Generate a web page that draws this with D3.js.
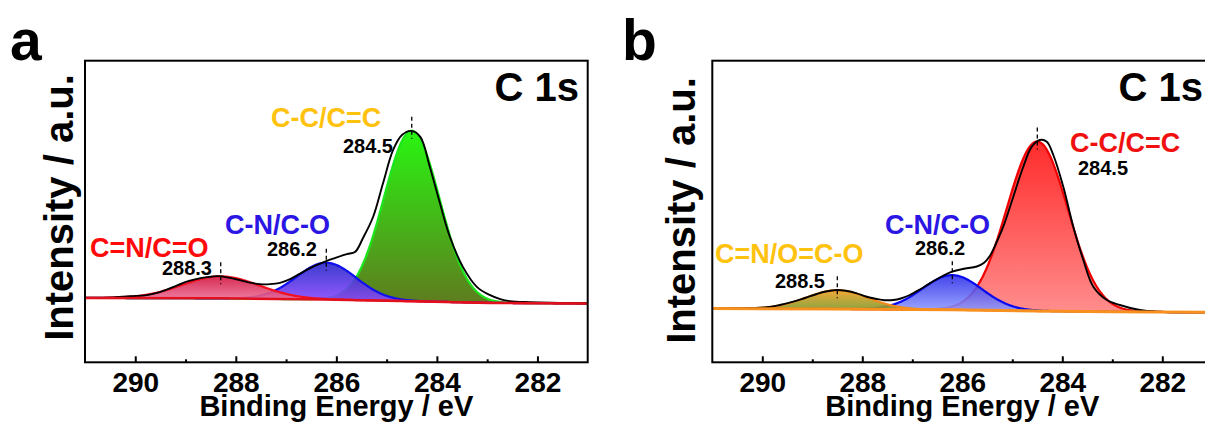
<!DOCTYPE html>
<html>
<head>
<meta charset="utf-8">
<script src="https://cdn.jsdelivr.net/npm/d3@7"></script>
<style>
  html, body { margin: 0; padding: 0; background: #fff; }
  svg { display: block; font-family: "Liberation Sans", Arial, Helvetica, sans-serif; font-weight: bold; }
</style>
</head>
<body>
<svg id="fig" width="1205" height="422"></svg>
<script>
// ---- Sample a: C 1s spectrum (binding energy in eV, intensity in a.u.) ----
const energyA = [291.00, 290.50, 290.10, 289.77, 289.51, 289.25, 289.01, 288.79, 288.57, 288.35,
  288.14, 287.92, 287.72, 287.52, 287.32, 287.12, 286.92, 286.72, 286.48, 286.25,
  286.03, 285.79, 285.63, 285.47, 285.27, 285.07, 284.87, 284.69, 284.51, 284.33,
  284.14, 283.94, 283.74, 283.48, 283.20, 282.94, 282.74, 282.55, 282.15, 281.55, 281.00];
const intensityA = [21.36, 21.43, 21.93, 22.26, 23.26, 24.92, 26.58, 27.57, 28.24, 28.57,
  28.07, 27.24, 26.41, 25.91, 25.91, 26.35, 27.57, 29.40, 31.56, 33.22,
  34.55, 35.88, 36.54, 41.20, 48.17, 59.47, 70.43, 75.42, 76.74, 74.75,
  64.78, 52.82, 41.53, 31.56, 24.92, 22.26, 20.93, 20.27, 19.93, 19.70, 19.50];
// Background under the fitted components
const bgEnergyA = [291.0, 288.35, 286.25, 284.5, 282.95, 281.0];
const bgA = [21.36, 21.2, 20.83, 20.27, 19.7, 19.5];
// Fitted components
const peakNamesA = ["C-C/C=C", "C-N/C-O", "C=N/C=O"];
const peakCentersA = [284.5, 286.2, 288.3];
const peakHeightsA = [56.5, 12.2, 7.3];
const peakFwhmA = [1.30, 1.40, 1.80];

// ---- Sample b: C 1s spectrum ----
const energyB = [291.00, 290.45, 289.91, 289.65, 289.38, 289.15, 288.91, 288.73, 288.51, 288.33,
  288.11, 287.93, 287.71, 287.55, 287.38, 287.23, 287.05, 286.85, 286.65, 286.43,
  286.20, 285.99, 285.71, 285.57, 285.45, 285.33, 285.18, 284.98, 284.78, 284.61,
  284.45, 284.31, 284.18, 283.98, 283.78, 283.58, 283.38, 283.11, 282.85, 282.45,
  282.05, 281.15, 281.00];
const intensityB = [17.90, 17.90, 18.24, 19.00, 20.09, 21.32, 22.65, 23.47, 23.97, 23.71,
  22.88, 21.82, 20.99, 20.59, 20.66, 21.15, 22.31, 24.14, 26.19, 28.28,
  30.04, 30.94, 31.76, 32.92, 35.25, 39.22, 44.96, 54.91, 64.85, 71.49,
  73.71, 73.14, 68.73, 58.22, 44.96, 33.92, 25.07, 20.66, 19.00, 17.34,
  16.78, 16.58, 16.55];
const bgEnergyB = [291.0, 288.5, 286.2, 284.5, 283.0, 281.0];
const bgB = [17.85, 17.7, 17.4, 17.0, 16.75, 16.6];
const peakNamesB = ["C-C/C=C", "C-N/C-O", "C=N/O=C-O"];
const peakCentersB = [284.5, 286.2, 288.5];
const peakHeightsB = [56.2, 11.5, 6.2];
const peakFwhmB = [1.43, 1.40, 1.45];

// ---- Axis ----
const energyDomain = [291, 281];
const majorTicks = [290, 288, 286, 284, 282];
const minorTicks = [289, 287, 285, 283];
const xTitle = "Binding Energy / eV";
const yTitle = "Intensity / a.u.";
const coreLevel = "C 1s";

// ---------------------------------------------------------------
const svg = d3.select("#fig");
const defs = svg.append("defs");
const FONT = '"Liberation Sans", Arial, Helvetica, sans-serif';

function drawPanel(p) {
  const x = d3.scaleLinear().domain(energyDomain).range([p.left, p.right]);
  const y = d3.scaleLinear().domain([0, 100]).range([p.bottom, p.top]);
  const bgAt = d3.scaleLinear().domain(p.bgEnergy).range(p.bg);
  const g = svg.append("g");

  const clipId = "clip-" + p.letter;
  defs.append("clipPath").attr("id", clipId)
    .append("rect")
    .attr("x", p.left).attr("y", p.top)
    .attr("width", p.right - p.left).attr("height", p.bottom - p.top);

  const plot = g.append("g").attr("clip-path", `url(#${clipId})`);

  // drawing grid for the fitted component profiles
  const grid = d3.range(energyDomain[1], energyDomain[0] + 1e-6, 0.02);
  const gauss = (e, c, h, w) => h * Math.exp(-4 * Math.LN2 * ((e - c) / w) ** 2);

  p.order.forEach(i => {
    const st = p.styles[i];
    const gid = `grad-${p.letter}-${i}`;
    const lg = defs.append("linearGradient").attr("id", gid)
      .attr("x1", 0).attr("y1", 0).attr("x2", 0).attr("y2", 1);
    lg.append("stop").attr("offset", "0%").attr("stop-color", st.top).attr("stop-opacity", st.opacity);
    lg.append("stop").attr("offset", "100%").attr("stop-color", st.bottom).attr("stop-opacity", st.opacity);

    const pts = grid.map(e => {
      const b = bgAt(e);
      return { e, b, v: b + gauss(e, p.centers[i], p.heights[i], p.fwhm[i]) };
    });
    const shown = pts.filter(d => d.v - d.b > 0.05);
    plot.append("path")
      .datum(shown)
      .attr("fill", `url(#${gid})`)
      .attr("d", d3.area().x(d => x(d.e)).y0(d => y(d.b)).y1(d => y(d.v)));
    plot.append("path")
      .datum(pts)
      .attr("fill", "none")
      .attr("stroke", st.stroke)
      .attr("stroke-width", 2.2)
      .attr("d", d3.line().x(d => x(d.e)).y(d => y(d.v)));
  });

  // measured envelope
  const env = p.energy.map((e, k) => [e, p.intensity[k]]);
  plot.append("path")
    .datum(env)
    .attr("fill", "none")
    .attr("stroke", "#000")
    .attr("stroke-width", 1.9)
    .attr("stroke-linejoin", "round")
    .attr("d", d3.line().x(d => x(d[0])).y(d => y(d[1])).curve(d3.curveCatmullRom.alpha(0.5)));

  // background line
  const bgPts = p.bgEnergy.map((e, k) => [e, p.bg[k]]);
  plot.append("path")
    .datum(bgPts)
    .attr("fill", "none")
    .attr("stroke", p.bgColor)
    .attr("stroke-width", p.bgWidth)
    .attr("d", d3.line().x(d => x(d[0])).y(d => y(d[1])));

  // peak position markers
  p.centers.forEach((c, i) => {
    const top = y(bgAt(c) + p.heights[i]);
    g.append("line")
      .attr("x1", x(c)).attr("x2", x(c))
      .attr("y1", top - 14).attr("y2", top + 8)
      .attr("stroke", "#000").attr("stroke-width", 1.3)
      .attr("stroke-dasharray", "4,3");
  });

  // frame
  g.append("rect")
    .attr("x", p.left).attr("y", p.top)
    .attr("width", p.right - p.left).attr("height", p.bottom - p.top)
    .attr("fill", "none").attr("stroke", "#000").attr("stroke-width", 2);

  // bottom axis, ticks pointing inward
  const ax = g.append("g").attr("transform", `translate(0,${p.bottom})`)
    .call(d3.axisBottom(x).tickValues(majorTicks).tickFormat(d3.format("d"))
      .tickSizeInner(-6).tickSizeOuter(0).tickPadding(10));
  ax.select(".domain").remove();
  ax.selectAll("line").attr("stroke", "#000").attr("stroke-width", 2);
  ax.selectAll("text").attr("fill", "#000")
    .style("font-family", FONT).style("font-weight", "bold").style("font-size", "28px");

  const axm = g.append("g").attr("transform", `translate(0,${p.bottom})`)
    .call(d3.axisBottom(x).tickValues(minorTicks).tickFormat("")
      .tickSizeInner(-3).tickSizeOuter(0));
  axm.select(".domain").remove();
  axm.selectAll("line").attr("stroke", "#000").attr("stroke-width", 2);

  // axis titles
  g.append("text")
    .attr("x", x(286)).attr("y", 416)
    .attr("text-anchor", "middle")
    .style("font-size", "29px").attr("fill", "#000")
    .text(xTitle);
  g.append("text")
    .attr("transform", `translate(${p.yTitleX},${p.yTitleY}) rotate(-90)`)
    .attr("text-anchor", "middle")
    .style("font-size", "40px").attr("fill", "#000")
    .text(yTitle);

  // panel letter and core level
  g.append("text")
    .attr("x", p.letterX).attr("y", 60)
    .style("font-size", "57px").attr("fill", "#000")
    .text(p.letter);
  g.append("text")
    .attr("x", p.coreX).attr("y", 101)
    .attr("text-anchor", "end")
    .style("font-size", "40px").attr("fill", "#000")
    .text(coreLevel);

  // component labels
  p.names.forEach((name, i) => {
    const L = p.labels[i];
    g.append("text")
      .attr("x", L.nx).attr("y", L.ny)
      .style("font-size", "27px").attr("fill", p.styles[i].text)
      .text(name);
    g.append("text")
      .attr("x", L.vx).attr("y", L.vy)
      .attr("text-anchor", L.vAnchor)
      .style("font-size", "20px").attr("fill", "#000")
      .text(d3.format(".1f")(p.centers[i]));
  });
}

drawPanel({
  letter: "a", letterX: 10,
  left: 85, right: 587.7, top: 60.7, bottom: 362.3,
  yTitleX: 73, yTitleY: 207.5, coreX: 579,
  energy: energyA, intensity: intensityA,
  bgEnergy: bgEnergyA, bg: bgA,
  names: peakNamesA, centers: peakCentersA, heights: peakHeightsA, fwhm: peakFwhmA,
  order: [0, 1, 2],
  bgColor: "#E2101C", bgWidth: 2.5,
  styles: [
    { stroke: "#1BE61B", top: "#22F50A", bottom: "#5A7818", opacity: 0.97, text: "#FFC20E" },
    { stroke: "#1010F0", top: "#2626C8", bottom: "#8A48FF", opacity: 0.9, text: "#2B16E4" },
    { stroke: "#F20F1F", top: "#D41440", bottom: "#EC7096", opacity: 0.9, text: "#FF0A0A" }
  ],
  labels: [
    { nx: 271, ny: 127, vx: 393, vy: 153, vAnchor: "end" },
    { nx: 225, ny: 234, vx: 317, vy: 256, vAnchor: "end" },
    { nx: 90, ny: 257, vx: 212, vy: 275, vAnchor: "end" }
  ]
});

drawPanel({
  letter: "b", letterX: 622,
  left: 712.3, right: 1212.3, top: 60.7, bottom: 362.3,
  yTitleX: 695, yTitleY: 210.5, coreX: 1203,
  energy: energyB, intensity: intensityB,
  bgEnergy: bgEnergyB, bg: bgB,
  names: peakNamesB, centers: peakCentersB, heights: peakHeightsB, fwhm: peakFwhmB,
  order: [0, 1, 2],
  bgColor: "#F7901E", bgWidth: 3,
  styles: [
    { stroke: "#F00000", top: "#FF1414", bottom: "#FF8080", opacity: 0.9, text: "#F01010" },
    { stroke: "#0A0AF0", top: "#2B2BE8", bottom: "#8C9AFF", opacity: 0.88, text: "#2B16E4" },
    { stroke: "#F08A1C", top: "#F0A020", bottom: "#7E9A2C", opacity: 0.9, text: "#FFC20E" }
  ],
  labels: [
    { nx: 1070, ny: 152, vx: 1078, vy: 174.5, vAnchor: "start" },
    { nx: 885, ny: 234, vx: 915, vy: 254.5, vAnchor: "start" },
    { nx: 715, ny: 263, vx: 825, vy: 287.5, vAnchor: "end" }
  ]
});
</script>
</body>
</html>
